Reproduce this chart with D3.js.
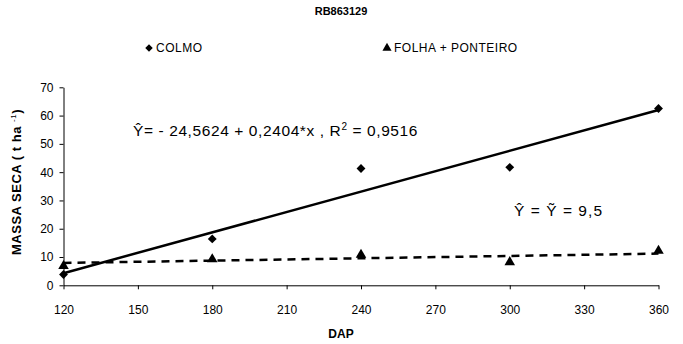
<!DOCTYPE html>
<html><head><meta charset="utf-8">
<script src="https://cdn.jsdelivr.net/npm/d3@7"></script>
<style>body{margin:0;background:#fff}svg{display:block}text{font-family:"Liberation Sans",Arial,sans-serif;fill:#000}</style>
</head><body><svg id="c" width="683" height="344"></svg>
<script>
const dap = [120, 180, 240, 300, 360];
const colmo = [3.8, 16.4, 41.3, 41.7, 62.5];
const folha = [6.8, 9.2, 10.8, 8.2, 12.2];
const colmoCoef = [-24.5624, 0.2404];
const folhaTrend = [7.9, 11.2];
const xTicks = [120, 150, 180, 210, 240, 270, 300, 330, 360];
const yTicks = [0, 10, 20, 30, 40, 50, 60, 70];

const svg = d3.select("#c");
const x = d3.scaleLinear().domain([120, 360]).range([63.5, 658.5]);
const y = d3.scaleLinear().domain([0, 70]).range([285.3, 87.3]);

// axes
const xa = svg.append("g").attr("class", "xaxis").attr("transform", `translate(0,${y(0)})`)
  .call(d3.axisBottom(x).tickValues(xTicks).tickFormat(d3.format("d")).tickSize(4).tickSizeOuter(0).tickPadding(16));
const ya = svg.append("g").attr("class", "yaxis").attr("transform", `translate(${x(120)},0)`)
  .call(d3.axisLeft(y).tickValues(yTicks).tickFormat(d3.format("d")).tickSize(4).tickSizeOuter(0).tickPadding(6));
[xa, ya].forEach(a => {
  a.select(".domain").attr("stroke", "#000").attr("stroke-width", 1);
  a.selectAll(".tick line").attr("stroke", "#000");
  a.selectAll(".tick text").style("font-size", "12px").style("font-family", '"Liberation Sans",Arial,sans-serif').attr("fill", "#000");
});

// trend lines
svg.append("line").attr("class", "trend-folha")
  .attr("x1", x(120)).attr("x2", x(360))
  .attr("y1", y(folhaTrend[0])).attr("y2", y(folhaTrend[1]))
  .attr("stroke", "#000").attr("stroke-width", 2.5).attr("stroke-dasharray", "8,6");
svg.append("line").attr("class", "trend-colmo")
  .attr("x1", x(120)).attr("x2", x(360))
  .attr("y1", y(colmoCoef[0] + colmoCoef[1] * 120)).attr("y2", y(colmoCoef[0] + colmoCoef[1] * 360))
  .attr("stroke", "#000").attr("stroke-width", 2.5);

// markers
const diamond = d3.symbol().type(d3.symbolDiamond2).size(50);
const tri = d3.symbol().type(d3.symbolTriangle).size(48);
svg.append("g").attr("class", "tris").selectAll("path").data(dap).join("path")
  .attr("transform", (d, i) => `translate(${x(d)},${y(folha[i])})`)
  .attr("d", tri()).attr("fill", "#000");
svg.append("g").attr("class", "dias").selectAll("path").data(dap).join("path")
  .attr("transform", (d, i) => `translate(${x(d)},${y(colmo[i])})`)
  .attr("d", diamond()).attr("fill", "#000");

// title
svg.append("text").attr("x", 341).attr("y", 15).attr("text-anchor", "middle")
  .style("font-size", "11px").style("font-weight", "bold").text("RB863129");

// legend
svg.append("path").attr("transform", "translate(149,48)").attr("d", d3.symbol().type(d3.symbolDiamond2).size(36)()).attr("fill", "#000");
svg.append("text").attr("x", 156).attr("y", 52).style("font-size", "12px").style("letter-spacing", "0.5px").text("COLMO");
svg.append("path").attr("transform", "translate(387,48)").attr("d", d3.symbol().type(d3.symbolTriangle).size(36)()).attr("fill", "#000");
svg.append("text").attr("x", 394).attr("y", 52).style("font-size", "12px").style("letter-spacing", "0.5px").text("FOLHA + PONTEIRO");

// equations
const eq = svg.append("text").attr("x", 133).attr("y", 135.5).style("font-size", "15.5px").style("letter-spacing", "0.6px");
eq.append("tspan").text("Ŷ= - 24,5624 + 0,2404*x , R");
eq.append("tspan").attr("dy", -6).style("font-size", "10px").text("2");
eq.append("tspan").attr("dy", 6).text(" = 0,9516");
svg.append("text").attr("x", 514).attr("y", 216).style("font-size", "15.5px")
  .attr("textLength", 88).attr("lengthAdjust", "spacing").text("Ŷ = Ỹ = 9,5");

// axis titles
svg.append("text").attr("x", 341).attr("y", 338).attr("text-anchor", "middle")
  .style("font-size", "12px").style("font-weight", "bold").text("DAP");
const yl = svg.append("text").attr("transform", "translate(21,182) rotate(-90)").attr("text-anchor", "middle")
  .style("font-size", "13px").style("font-weight", "bold").style("letter-spacing", "0.5px");
yl.append("tspan").text("MASSA SECA ( t ha    ");
yl.append("tspan").attr("dy", -5).style("font-size", "8px").style("font-weight", "normal").text("-1");
yl.append("tspan").attr("dy", 5).text(")");
</script></body></html>
